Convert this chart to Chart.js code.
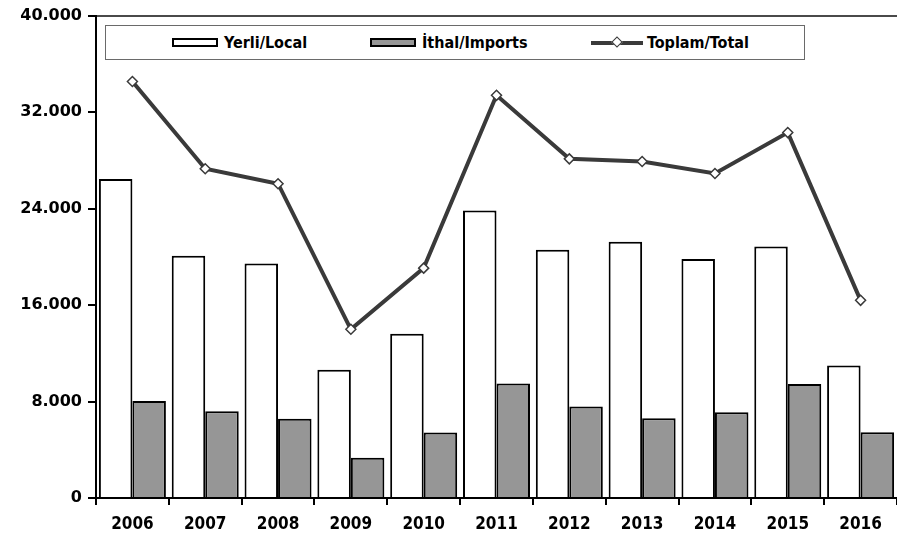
<!DOCTYPE html>
<html><head><meta charset="utf-8">
<script src="https://cdn.jsdelivr.net/npm/chart.js@4/dist/chart.umd.min.js"></script>
<style>
html,body{margin:0;padding:0;background:#fff;}
#wrap{position:relative;width:897px;height:539px;}
#legend{position:absolute;left:105px;top:25px;width:700px;height:35px;border:1.5px solid #6a6a6a;box-sizing:border-box;background:#fff;font:bold 16px "DejaVu Sans Condensed","DejaVu Sans",sans-serif;color:#000;}
.item{position:absolute;top:0;height:100%;display:flex;align-items:center;white-space:nowrap;}
.sw{width:46px;height:9px;box-sizing:border-box;border:2px solid #000;margin-right:6px;}
.ln{position:relative;width:52px;height:4px;background:#3a3a3a;margin-right:4px;}
.dm{position:absolute;left:22px;top:-3px;width:8px;height:8px;box-sizing:border-box;background:#fff;border:1.5px solid #3a3a3a;transform:rotate(45deg);}
</style></head>
<body>
<div id="wrap">
<canvas id="c" width="897" height="539"></canvas>
<div id="legend"></div>
</div>
<script>
const years = ['2006','2007','2008','2009','2010','2011','2012','2013','2014','2015','2016'];
const localValues = [26450,20080,19450,10630,13610,23830,20580,21240,19810,20850,10990];
const importValues = [8040,7190,6580,3330,5430,9500,7580,6610,7110,9450,5450];
const totalValues = [34540,27300,26060,13990,19060,33390,28120,27900,26910,30300,16390];
const yTicks = [0,8000,16000,24000,32000,40000];
const seriesNames = ['Yerli/Local','İthal/Imports','Toplam/Total'];

const fmt = v => v === 0 ? '0' : String(v).replace(/\B(?=(\d{3})+(?!\d))/g, '.');

// HTML legend
const lg = document.getElementById('legend');
const lefts = [66, 264, 485];
lg.innerHTML =
  '<div class="item" style="left:'+lefts[0]+'px"><div class="sw" style="background:#fff"></div>'+seriesNames[0]+'</div>'+
  '<div class="item" style="left:'+lefts[1]+'px"><div class="sw" style="background:#969696"></div>'+seriesNames[1]+'</div>'+
  '<div class="item" style="left:'+lefts[2]+'px"><div class="ln"><div class="dm"></div></div>'+seriesNames[2]+'</div>';

new Chart(document.getElementById('c'), {
  data: {
    labels: years,
    datasets: [
      {type:'line', label:seriesNames[2], data:totalValues, order:0,
       borderColor:'#3a3a3a', borderWidth:4, tension:0, fill:false,
       pointStyle:'rectRot', pointRadius:5, pointBackgroundColor:'#fff',
       pointBorderColor:'#3a3a3a', pointBorderWidth:1.5},
      {type:'bar', label:seriesNames[0], data:localValues, order:1,
       backgroundColor:'#ffffff', borderColor:'#000', borderWidth:2,
       categoryPercentage:0.92, barPercentage:1.0},
      {type:'bar', label:seriesNames[1], data:importValues, order:1,
       backgroundColor:'#969696', borderColor:'#000', borderWidth:2,
       categoryPercentage:0.92, barPercentage:1.0}
    ]
  },
  options: {
    responsive:false, animation:false, devicePixelRatio:1,
    layout:{autoPadding:false, padding:{top:14,right:0,left:0,bottom:0}},
    plugins:{legend:{display:false}, tooltip:{enabled:false}},
    scales:{
      x:{
        offset:true,
        grid:{offset:true, color:'transparent', tickColor:'#000', tickLength:7, lineWidth:2},
        border:{color:'#000', width:2},
        ticks:{color:'#000', padding:9, font:{family:'"DejaVu Sans Condensed","DejaVu Sans",sans-serif', weight:'bold', size:17}},
        afterFit:s=>{s.height=41; s.paddingLeft=0; s.paddingRight=0;}
      },
      y:{
        min:0, max:40000,
        afterBuildTicks:s=>{s.ticks = yTicks.map(v=>({value:v}));},
        grid:{color:c=>(c.tick && c.tick.value===40000)?'#4a4a4a':'transparent', tickColor:'#000', tickLength:8, lineWidth:2},
        border:{color:'#000', width:2},
        ticks:{color:'#000', padding:6, callback:v=>fmt(v), font:{family:'"DejaVu Sans",sans-serif', weight:'bold', size:16}},
        afterFit:s=>{s.width=96;}
      }
    }
  }
});
</script>
</body></html>
